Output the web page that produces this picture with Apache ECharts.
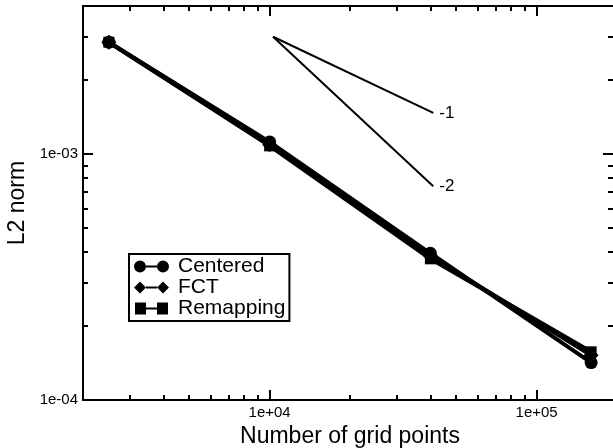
<!DOCTYPE html>
<html>
<head>
<meta charset="UTF-8" />
<script src="https://cdn.jsdelivr.net/npm/echarts@6/dist/echarts.min.js"></script>
<style>
  html, body { margin: 0; padding: 0; background: #fff; }
  #main { width: 613px; height: 448px; }
</style>
</head>
<body>
<div id="main"></div>
<script>
  // grid points and L2 error norms
  var gridPoints = [2500, 10000, 40000, 160000];
  var centered = [2.85e-3, 1.12e-3, 3.95e-4, 1.42e-4];
  var fct = [2.85e-3, 1.09e-3, 3.85e-4, 1.52e-4];
  var remapping = [2.85e-3, 1.08e-3, 3.75e-4, 1.57e-4];

  // slope guides (start, end) and their labels
  var guideX = [10300, 41000];
  var guide1 = [3e-3, 1.47e-3];
  var guide2 = [3e-3, 7.4e-4];

  var xMajor = [1e4, 1e5];
  var xMinor = [3000, 4000, 5000, 6000, 7000, 8000, 9000, 20000, 30000, 40000, 50000, 60000, 70000, 80000, 90000];
  var yMajor = [1e-4, 1e-3];
  var yMinor = [2e-4, 3e-4, 4e-4, 5e-4, 6e-4, 7e-4, 8e-4, 9e-4, 2e-3, 3e-3];

  var FONT = "Liberation Sans";

  function expLabel(v) {
    var e = Math.round(Math.log10(v));
    var s = e < 0 ? "-" : "+";
    var a = Math.abs(e);
    return "1e" + s + (a < 10 ? "0" + a : a);
  }

  function pairs(xs, ys) {
    return xs.map(function (x, i) { return [x, ys[i]]; });
  }

  function axis(kind, pos, ticks, len, showLine, showLabel) {
    return {
      type: "log",
      position: pos,
      min: kind === "x" ? 2000 : 1e-4,
      max: kind === "x" ? 2e5 : 4e-3,
      splitLine: { show: false },
      axisLine: { show: showLine, lineStyle: { color: "#000", width: 2 } },
      axisTick: { show: true, inside: true, length: len, customValues: ticks,
                  lineStyle: { color: "#000", width: 2 } },
      axisLabel: { show: showLabel, customValues: showLabel ? ticks : undefined,
                   formatter: expLabel, color: "#000", fontFamily: FONT, fontSize: 15, margin: 5 }
    };
  }

  var xAxes = [
    axis("x", "bottom", xMajor, 10, true, true),
    axis("x", "bottom", xMinor, 5, false, false),
    axis("x", "top", xMajor, 10, true, false),
    axis("x", "top", xMinor, 5, false, false)
  ];
  xAxes[0].name = "Number of grid points";
  xAxes[0].nameLocation = "middle";
  xAxes[0].nameGap = 24;
  xAxes[0].nameTextStyle = { color: "#000", fontFamily: FONT, fontSize: 23 };

  // the right frame sits just past the picture edge, so its ticks are longer
  var yAxes = [
    axis("y", "left", yMajor, 10, true, true),
    axis("y", "left", yMinor, 5, false, false),
    axis("y", "right", yMajor, 14, true, false),
    axis("y", "right", yMinor, 9, false, false)
  ];
  yAxes[0].name = "L2 norm";
  yAxes[0].nameLocation = "middle";
  yAxes[0].nameGap = 54;
  yAxes[0].nameTextStyle = { color: "#000", fontFamily: FONT, fontSize: 23 };

  var circleIcon = "path://M0,6 A6,6 0 1,1 12,6 A6,6 0 1,1 0,6 Z M12,5 L23,5 L23,7 L12,7 Z M23,6 A6,6 0 1,1 35,6 A6,6 0 1,1 23,6 Z";
  var diamondIcon = "path://M0,6 L6,0 L12,6 L6,12 Z M12,5 L23,5 L23,7 L12,7 Z M23,6 L29,0 L35,6 L29,12 Z";
  var squareIcon = "path://M1,0 L12,0 L12,12 L1,12 Z M12,5 L23,5 L23,7 L12,7 Z M23,0 L34,0 L34,12 L23,12 Z";

  function dataSeries(name, ys, symbol, size) {
    return {
      name: name, type: "line", data: pairs(gridPoints, ys),
      symbol: symbol, symbolSize: size, showSymbol: true,
      lineStyle: { color: "#000", width: 4 },
      itemStyle: { color: "#000" },
      animation: false
    };
  }

  function guide(ys, text) {
    return {
      type: "line", data: pairs(guideX, ys), symbol: "none", silent: true,
      lineStyle: { color: "#000", width: 2 }, animation: false,
      endLabel: { show: true, formatter: text, distance: 6,
                  color: "#000", fontFamily: FONT, fontSize: 17 }
    };
  }

  var chart = echarts.init(document.getElementById("main"));
  chart.setOption({
    backgroundColor: "#fff",
    grid: { left: 83, right: -4, top: 6, bottom: 48, outerBoundsMode: "none" },
    xAxis: xAxes,
    yAxis: yAxes,
    legend: {
      orient: "vertical", left: 129, top: 254,
      padding: [2, 4, 2, 5], itemGap: 0, itemWidth: 35, itemHeight: 12,
      backgroundColor: "#fff", borderColor: "#000", borderWidth: 2, borderRadius: 0,
      textStyle: { color: "#000", fontFamily: FONT, fontSize: 21, padding: [0, 0, 0, 4] },
      data: [
        { name: "Centered", icon: circleIcon },
        { name: "FCT", icon: diamondIcon },
        { name: "Remapping", icon: squareIcon }
      ]
    },
    series: [
      guide(guide1, "-1"),
      guide(guide2, "-2"),
      dataSeries("Centered", centered, "circle", 13),
      dataSeries("FCT", fct, "diamond", 15),
      dataSeries("Remapping", remapping, "rect", 11)
    ]
  });
</script>
</body>
</html>
